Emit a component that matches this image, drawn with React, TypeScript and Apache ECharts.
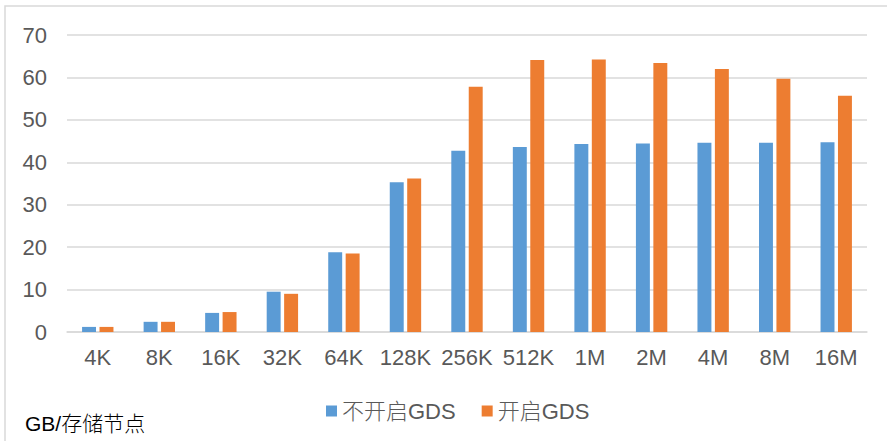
import React, { useEffect, useRef } from "react";
import * as echarts from "echarts";

const categories = ["4K", "8K", "16K", "32K", "64K", "128K", "256K", "512K", "1M", "2M", "4M", "8M", "16M"];
const noGds = [1.2, 2.4, 4.5, 9.5, 18.8, 35.3, 42.7, 43.6, 44.3, 44.4, 44.6, 44.6, 44.7];
const withGds = [1.2, 2.4, 4.7, 9.0, 18.5, 36.2, 57.8, 64.1, 64.2, 63.4, 62.0, 59.7, 55.7];
const seriesNames = ["不开启GDS", "开启GDS"];
const unitLabel = "GB/存储节点";

const FONT = "'Liberation Sans', 'Noto Sans CJK SC', sans-serif";

export default function App() {
  const ref = useRef<HTMLDivElement>(null);
  useEffect(() => {
    if (!ref.current) return;
    const chart = echarts.init(ref.current, undefined, { renderer: "svg" });
    chart.setOption({
      animation: false,
      backgroundColor: "#ffffff",
      textStyle: { fontFamily: FONT },
      grid: { left: 67, right: 20, top: 35, bottom: 109, containLabel: false },
      legend: {
        data: seriesNames,
        top: 395,
        left: 321,
        itemWidth: 11,
        itemHeight: 11,
        itemGap: 26,
        icon: "rect",
        textStyle: { fontSize: 22, color: "#595959", fontFamily: FONT, fontWeight: 300 },
      },
      xAxis: {
        type: "category",
        data: categories,
        axisLine: { lineStyle: { color: "#d9d9d9", width: 1.5 } },
        axisTick: { show: false },
        axisLabel: { interval: 0, hideOverlap: false, fontSize: 22, color: "#595959", margin: 14, fontFamily: FONT },
      },
      yAxis: {
        type: "value",
        min: 0,
        max: 70,
        interval: 10,
        axisLine: { show: false },
        axisTick: { show: false },
        splitLine: { lineStyle: { color: "#d9d9d9", width: 1.5 } },
        axisLabel: { fontSize: 22, color: "#595959", margin: 20, fontFamily: FONT },
      },
      series: [
        {
          name: seriesNames[0],
          type: "bar",
          data: noGds,
          itemStyle: { color: "#5b9bd5" },
          barGap: "25%",
          barCategoryGap: "49%",
        },
        {
          name: seriesNames[1],
          type: "bar",
          data: withGds,
          itemStyle: { color: "#ed7d31" },
        },
      ],
      graphic: [
        {
          type: "rect",
          shape: { x: 5, y: 6, width: 900, height: 460 },
          style: { fill: "none", stroke: "#d9d9d9", lineWidth: 1.5 },
          silent: true,
        },
        {
          type: "text",
          left: 25,
          top: 413,
          style: { text: unitLabel, fontSize: 21, fill: "#000000", fontFamily: FONT, fontWeight: 300 },
        },
      ],
    });
    return () => chart.dispose();
  }, []);
  return <div ref={ref} style={{ width: 887, height: 441, position: "absolute", left: 0, top: 0 }} />;
}
